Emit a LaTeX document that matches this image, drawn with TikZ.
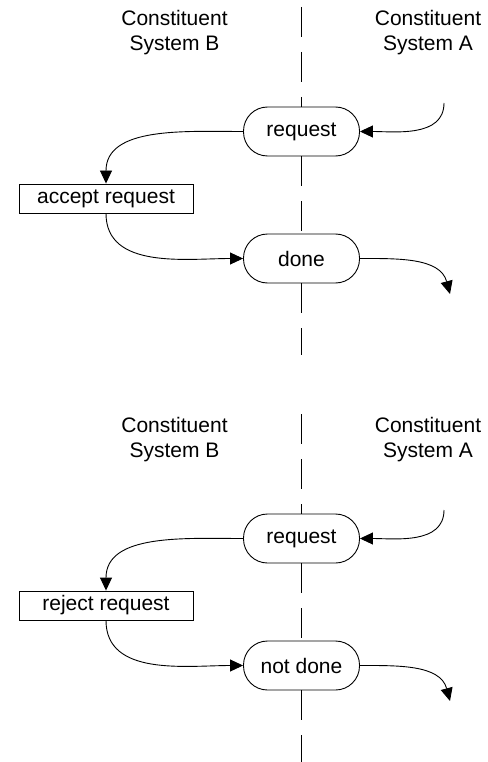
\documentclass[tikz,border=0pt]{standalone}
\usepackage{fontspec}
\setmainfont{Liberation Sans}
\usepackage{tikz}
\usetikzlibrary{arrows.meta}

\begin{document}
\begin{tikzpicture}[
        x=1pt, y=1pt,
        line width=0.9pt,
        every node/.style={font=\fontsize{21}{25}\selectfont},
        stadium/.style={draw, fill=white, rectangle, rounded corners=24pt,
            minimum width=116pt, minimum height=49pt, inner sep=0pt},
        actbox/.style={draw, fill=white, rectangle,
            minimum width=174pt, minimum height=29pt, inner sep=0pt},
        sysname/.style={align=center},
        lane/.style={dash pattern=on 30pt off 15pt},
        flow/.style={-{Triangle[length=13pt,width=12pt]}},
    ]

    \useasboundingbox (0,0) rectangle (487,-762);

    %Draw both scenarios, the second one shifted down
    \foreach \i/\dy/\act/\res in {1/0/accept request/done, 2/-407/reject request/not done} {
        \begin{scope}[yshift=\dy pt]
            %Column titles
            \node [sysname] (sysB\i) at (174.5,-32.5) {Constituent\\System B};
            \node [sysname] (sysA\i) at (428,-32.5) {Constituent\\System A};

            %Messages and the action
            \node [stadium] (req\i) at (301.5,-131.5) {request};
            \node [actbox] (act\i) at (106,-198.5) {\act};
            \node [stadium] (res\i) at (301.5,-258.5) {\res};

            %Ends of the dividing line and the free arrows
            \coordinate (top\i) at (301.5,-7);
            \coordinate (bot\i) at (301.5,-355);
            \coordinate (in\i) at (444,-103);
            \coordinate (out\i) at (450,-294);

            %Draw the dividing line between the two systems
            \draw [lane] (top\i) -- (req\i.north);
            \draw [lane] (req\i.south) -- (res\i.north);
            \draw [lane] (res\i.south) -- (bot\i);

            %Draw the message flow
            \draw [flow] (in\i) to[out=-90, in=0] (req\i.east);
            \draw [flow] (req\i.west) to[out=180, in=90] (act\i.north);
            \draw [flow] (act\i.south) to[out=-90, in=180] (res\i.west);
            \draw [flow] (res\i.east) to[out=0, in=105] (out\i);
        \end{scope}
    }
\end{tikzpicture}
\end{document}
